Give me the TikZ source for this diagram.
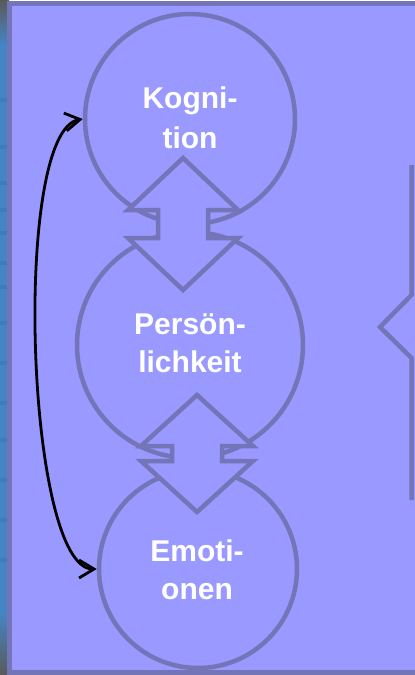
\documentclass[tikz,border=0pt]{standalone}
\usepackage{fontspec}
\setmainfont{Liberation Sans}
\usetikzlibrary{arrows.meta}
\definecolor{panelfill}{HTML}{9999FF}
\definecolor{panelline}{HTML}{7474B8}
\definecolor{stripblue}{HTML}{4585C6}
\definecolor{stripdark}{HTML}{3A6E9E}
\definecolor{stripgray}{HTML}{5A5A5A}
\definecolor{striplight}{HTML}{9AB8CC}
\tikzset{
  bubble/.style={circle, draw=panelline, line width=4.5pt, fill=panelfill, inner sep=0pt},
  label/.style={text=white, font=\bfseries\fontsize{30}{38}\selectfont, align=center, inner sep=0pt},
  dblarrow/.style={draw=panelline, fill=panelfill, line width=4.5pt, miter limit=10},
  outline/.style={draw=panelline, line width=4.5pt, miter limit=10},
  cycle arrow/.style={draw=black, line width=2.8pt,
    {Straight Barb[length=15pt,width=18pt]}-{Straight Barb[length=15pt,width=18pt]}}
}
\begin{document}
\begin{tikzpicture}[x=1pt, y=-1pt]
\useasboundingbox (0,0) rectangle (415,675);
\clip (0,0) rectangle (415,675);

% window edge strip on the far left
\fill[stripblue] (0,0) rectangle (9,675);
\shade[top color=stripgray, middle color=striplight, bottom color=stripblue] (0,0) rectangle (9,45);
\shade[top color=stripblue, middle color=striplight, bottom color=stripgray] (0,612) rectangle (9,675);
\foreach \yy in {100,147,183,210,233,263,287,323,363,403,440,480,520,560}
  \fill[stripdark, opacity=0.35] (0,\yy-2) rectangle (7,\yy+2);

% panel
\draw[fill=panelfill, draw=panelline, line width=5pt] (9.8,3.5) rectangle (430,672);

% bracket on the right edge
\draw[outline] (411.5,165) -- (411.5,295) -- (380,327) -- (411.5,358) -- (411.5,500);

% circles
\node[bubble, minimum size=210pt] (kog) at (190,119) {};
\node[bubble, minimum size=226pt] (per) at (190,345) {};
\node[bubble, minimum size=198pt] (emo) at (198,569) {};

% double arrows between the circles
\draw[dblarrow] (183,158) -- (238,210) -- (208,210) -- (208,238) -- (238,238)
  -- (183,290) -- (128,238) -- (158,238) -- (158,210) -- (128,210) -- cycle;
\draw[dblarrow] (197,395) -- (253,446) -- (222,446) -- (222,461) -- (253,461)
  -- (197,512) -- (141,461) -- (172,461) -- (172,446) -- (141,446) -- cycle;

% labels
\node[label, font=\bfseries\fontsize{30}{40}\selectfont] (kogtxt) at (190,118) {Kogni-\\tion};
\node[label] (pertxt) at (190,343) {Persön-\\lichkeit};
\node[label] (emotxt) at (197,570) {Emoti-\\onen};

% feedback arc
\draw[cycle arrow] (kog.west) .. controls +(-71,12) and +(-71,0) .. (emo.west);
\end{tikzpicture}
\end{document}
